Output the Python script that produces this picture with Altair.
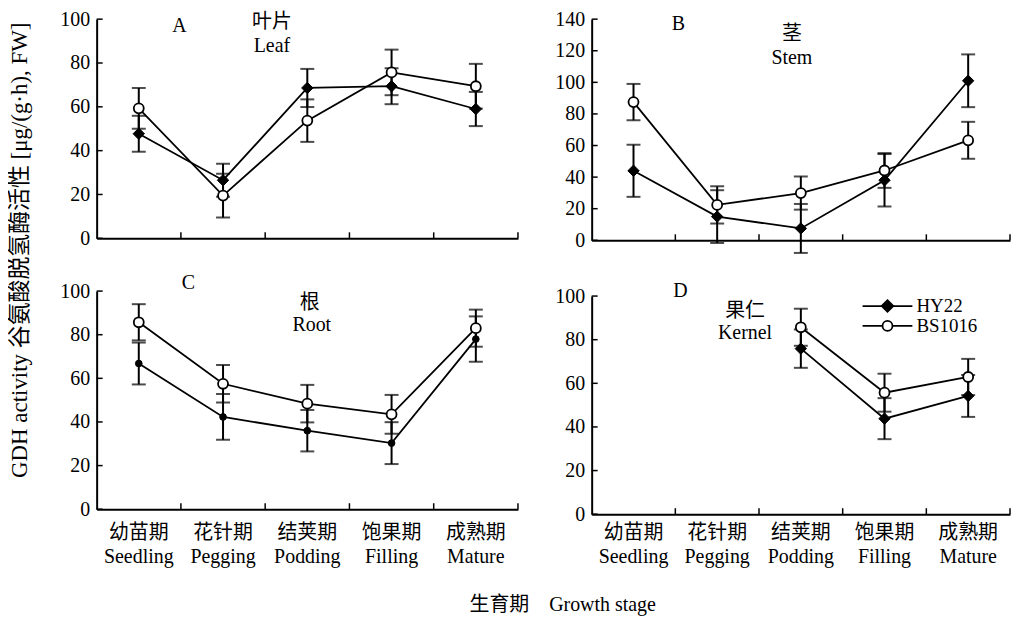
import altair as alt
import pandas as pd

FONT = "Liberation Serif, Noto Sans CJK SC"

stages_cn = ["幼苗期", "花针期", "结荚期", "饱果期", "成熟期"]
stages_en = ["Seedling", "Pegging", "Podding", "Filling", "Mature"]
stages = [f"{c}|{e}" for c, e in zip(stages_cn, stages_en)]
series = ["HY22", "BS1016"]

panel_letters = ["A", "B", "C", "D"]
organ_cn = ["叶片", "茎", "根", "果仁"]
organ_en = ["Leaf", "Stem", "Root", "Kernel"]

leaf_hy22 = [47.7, 26.5, 68.6, 69.4, 59.0]
leaf_hy22_err = [8.2, 7.5, 8.7, 8.2, 7.8]
leaf_bs = [59.3, 19.5, 53.7, 75.7, 69.4]
leaf_bs_err = [9.3, 10.0, 9.7, 10.4, 10.2]

stem_hy22 = [44.0, 15.0, 7.5, 38.0, 101.0]
stem_hy22_err = [16.5, 16.7, 15.5, 16.6, 16.7]
stem_bs = [87.5, 22.4, 29.9, 44.2, 63.3]
stem_bs_err = [11.5, 11.8, 10.5, 11.0, 11.7]

root_hy22 = [66.8, 42.3, 36.0, 30.3, 78.0]
root_hy22_err = [9.6, 10.5, 9.5, 9.6, 10.4]
root_bs = [85.7, 57.5, 48.4, 43.5, 83.0]
root_bs_err = [8.3, 8.6, 8.6, 8.9, 8.5]

kernel_hy22 = [None, None, 75.9, 43.8, 54.2]
kernel_hy22_err = [None, None, 8.8, 9.4, 9.6]
kernel_bs = [None, None, 85.7, 55.7, 62.9]
kernel_bs_err = [None, None, 8.5, 8.7, 8.3]

y_max = [100, 140, 100, 100]


def rows_for(vals, errs, name):
    out = []
    for st, v, e in zip(stages, vals, errs):
        if v is None:
            continue
        out.append({"stage": st, "series": name, "value": v, "lo": v - e, "hi": v + e})
    return out


XSCALE = alt.Scale(type="band", domain=stages, paddingInner=0, paddingOuter=0)


def make_xaxis(bottom, pad):
    return alt.Axis(title=None, ticks=False, labels=bottom,
                    labelExpr="split(datum.label, '|')", labelAngle=0,
                    labelPadding=pad, labelLineHeight=25, labelFontSize=20,
                    labelFont=FONT, labelColor="black", domainWidth=2,
                    domainColor="black", grid=False)


def make_yaxis(ymax):
    return alt.Axis(title=None, values=list(range(0, ymax + 1, 20)), ticks=False,
                    labelPadding=7, labelFontSize=20, labelFont=FONT, labelOverlap=False,
                    labelColor="black", domainWidth=2, domainColor="black", grid=False)


def panel(i, hy, hy_err, bs, bs_err, w, h, bottom, hy_shape, hy_size, pos,
          legend=False, top=0, xpad=13):
    ymax = y_max[i]
    df = pd.DataFrame(rows_for(hy, hy_err, series[0]) + rows_for(bs, bs_err, series[1]))
    base = alt.Chart(df)
    xax = make_xaxis(bottom, xpad)
    yax = make_yaxis(ymax)
    ysc = alt.Scale(domain=[0, ymax], nice=False, zero=True, range=[h, top])

    def X(**kw):
        return alt.X("stage:N", sort=stages, scale=XSCALE, axis=xax, **kw)

    def Y(field):
        return alt.Y(f"{field}:Q", scale=ysc, axis=yax)

    lines = base.mark_line(color="black", strokeWidth=1.8).encode(
        x=X(), y=Y("value"), detail="series:N")
    bars = base.mark_rule(color="black", strokeWidth=2).encode(
        x=X(), y=Y("lo"), y2="hi:Q")
    cap_lo = base.mark_tick(color="black", size=14, thickness=2).encode(
        x=X(), y=Y("lo"))
    cap_hi = base.mark_tick(color="black", size=14, thickness=2).encode(
        x=X(), y=Y("hi"))
    pts_hy = base.transform_filter(alt.datum.series == series[0]).mark_point(
        shape=hy_shape, size=hy_size, filled=True, fill="black", stroke="black",
        strokeWidth=1, opacity=1).encode(x=X(), y=Y("value"))
    pts_bs = base.transform_filter(alt.datum.series == series[1]).mark_point(
        shape="circle", size=100, filled=True, fill="white", stroke="black",
        strokeWidth=1.8, opacity=1).encode(x=X(), y=Y("value"))

    ytick_df = pd.DataFrame({"value": list(range(0, ymax + 1, 20))})
    yticks = alt.Chart(ytick_df).mark_rule(color="black", strokeWidth=1.5).encode(
        y=Y("value"), x=alt.value(0), x2=alt.value(6))
    xtick_df = pd.DataFrame({"stage": stages})
    xticks = alt.Chart(xtick_df).mark_rule(color="black", strokeWidth=1.5).encode(
        x=X(bandPosition=1), y=alt.value(h), y2=alt.value(h - 6))

    def text_layer(txt, x, y, size=20, align="center"):
        return alt.Chart(pd.DataFrame({"t": [txt]})).mark_text(
            font=FONT, fontSize=size, color="black", align=align, baseline="middle"
        ).encode(text="t:N", x=alt.value(x), y=alt.value(y))

    layers = [lines, bars, cap_lo, cap_hi, pts_hy, pts_bs, yticks, xticks,
              text_layer(panel_letters[i], *pos[0]),
              text_layer(organ_cn[i], *pos[1]),
              text_layer(organ_en[i], *pos[2])]

    if legend:
        lx0, lx1, ly0 = 272, 322, 15
        for k, s in enumerate(series):
            ly = ly0 + 20 * k
            d = pd.DataFrame({"s": [s]})
            layers.append(alt.Chart(d).mark_rule(color="black", strokeWidth=1.8).encode(
                x=alt.value(lx0), x2=alt.value(lx1), y=alt.value(ly)))
            if k == 0:
                layers.append(alt.Chart(d).mark_point(
                    shape="diamond", size=130, filled=True, fill="black", stroke="black",
                    opacity=1).encode(x=alt.value((lx0 + lx1) / 2), y=alt.value(ly)))
            else:
                layers.append(alt.Chart(d).mark_point(
                    shape="circle", size=100, filled=True, fill="white", stroke="black",
                    strokeWidth=1.8, opacity=1).encode(x=alt.value((lx0 + lx1) / 2), y=alt.value(ly)))
            layers.append(alt.Chart(d).mark_text(
                font=FONT, fontSize=19, color="black", align="left", baseline="middle"
            ).encode(text="s:N", x=alt.value(lx1 + 4), y=alt.value(ly)))

    return alt.layer(*layers).properties(width=w, height=h)


pA = panel(0, leaf_hy22, leaf_hy22_err, leaf_bs, leaf_bs_err, 423, 220, False,
           "diamond", 130, [(83, 7), (176, 3), (176, 27)])
pB = panel(1, stem_hy22, stem_hy22_err, stem_bs, stem_bs_err, 420, 222, False,
           "diamond", 130, [(87, 5), (201, 15), (201, 39)])
pC = panel(2, root_hy22, root_hy22_err, root_bs, root_bs_err, 423, 219, True,
           "circle", 45, [(92, -8), (214, 12), (216, 34)])
pD = panel(3, kernel_hy22, kernel_hy22_err, kernel_bs, kernel_bs_err, 420, 224, True,
           "diamond", 130, [(89, 0), (154, 20), (154, 42)], legend=True, top=5, xpad=8)

row1 = alt.hconcat(pA, pB, spacing=36)
row2 = alt.hconcat(pC, pD, spacing=36)
grid = alt.vconcat(row1, row2, spacing=19)

mid = alt.hconcat(grid, spacing=0, title=alt.TitleParams(
    text="GDH activity 谷氨酸脱氢酶活性 [μg/(g·h), FW]", orient="left", anchor="middle",
    fontSize=23, font=FONT, fontWeight="normal", color="black", offset=28, dx=38))

chart = alt.vconcat(mid, spacing=0, title=alt.TitleParams(
    text="生育期\u00a0\u00a0\u00a0\u00a0Growth stage", orient="bottom", anchor="middle", fontSize=20,
    font=FONT, fontWeight="normal", color="black", offset=28, dx=53)
).properties(padding=0, background="white").configure_view(stroke=None).configure_axis(labelOverlap=False)

chart.save("out.html", embed_options={"renderer": "svg", "actions": False})
